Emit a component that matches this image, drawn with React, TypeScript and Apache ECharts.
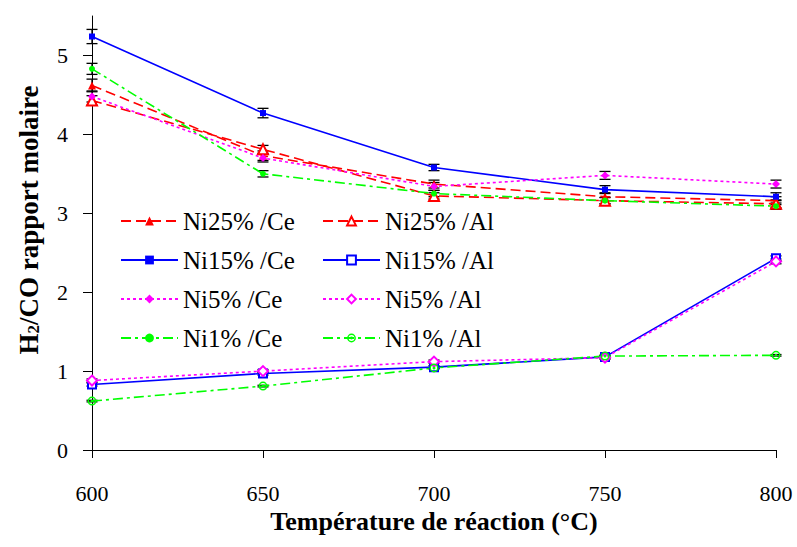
import React, { useEffect, useRef } from "react";
import * as echarts from "echarts";

const temperatures = [600, 650, 700, 750, 800];
const xTicks = [600, 650, 700, 750, 800];
const yTicks = [0, 1, 2, 3, 4, 5];

const namesCe = ["Ni25%/Ce", "Ni15%/Ce", "Ni5%/Ce", "Ni1%/Ce"];
const namesAl = ["Ni25%/Al", "Ni15%/Al", "Ni5%/Al", "Ni1%/Al"];

const ni25Ce = [4.62, 3.73, 3.37, 3.21, 3.16];
const ni25Al = [4.43, 3.81, 3.22, 3.16, 3.12];
const ni15Ce = [5.24, 4.27, 3.58, 3.3, 3.21];
const ni15Al = [0.83, 0.97, 1.05, 1.18, 2.43];
const ni5Ce = [4.48, 3.7, 3.34, 3.48, 3.37];
const ni5Al = [0.88, 1.0, 1.12, 1.17, 2.39];
const ni1Ce = [4.83, 3.5, 3.25, 3.16, 3.09];
const ni1Al = [0.62, 0.81, 1.04, 1.19, 1.2];

const err25Ce = [0.08, 0.06, 0.05, 0.05, 0.05];
const err25Al = [0.06, 0.05, 0.04, 0.04, 0.05];
const err15Ce = [0.09, 0.06, 0.04, 0.05, 0.05];
const err15Al = [0.02, 0.02, 0.02, 0.02, 0.03];
const err5Ce = [0.07, 0.05, 0.05, 0.05, 0.05];
const err5Al = [0.02, 0.02, 0.02, 0.02, 0.03];
const err1Ce = [0.07, 0.04, 0.04, 0.04, 0.04];
const err1Al = [0.01, 0.01, 0.01, 0.01, 0.01];

const FONT = "Liberation Serif";
const RED = "#FF0000";
const BLUE = "#0000FF";
const MAGENTA = "#FF00FF";
const GREEN = "#00FF00";
const RING_DOT =
  "path://M1,10A9,9 0 1,1 19,10A9,9 0 1,1 1,10Z M4,10A6,6 0 1,0 16,10A6,6 0 1,0 4,10Z M7,10A3,3 0 1,1 13,10A3,3 0 1,1 7,10Z";

export default function App() {
  const ref = useRef<HTMLDivElement>(null);
  useEffect(() => {
    document.body.style.margin = "0";
    if (!ref.current) return;
    const chart = echarts.init(ref.current, null, { renderer: "svg" });

    const defs = [
      { name: "Ni25%/Ce", v: ni25Ce, e: err25Ce, color: RED, dash: [10, 5], symbol: "triangle", size: 8 },
      { name: "Ni25%/Al", v: ni25Al, e: err25Al, color: RED, dash: [10, 5], symbol: "emptyTriangle", size: 10 },
      { name: "Ni15%/Ce", v: ni15Ce, e: err15Ce, color: BLUE, dash: "solid", symbol: "rect", size: 6 },
      { name: "Ni15%/Al", v: ni15Al, e: err15Al, color: BLUE, dash: "solid", symbol: "emptyRect", size: 8 },
      { name: "Ni5%/Ce", v: ni5Ce, e: err5Ce, color: MAGENTA, dash: [3, 3], symbol: "diamond", size: 8 },
      { name: "Ni5%/Al", v: ni5Al, e: err5Al, color: MAGENTA, dash: [3, 3], symbol: "emptyDiamond", size: 10 },
      { name: "Ni1%/Ce", v: ni1Ce, e: err1Ce, color: GREEN, dash: [10, 4, 3, 4], symbol: "circle", size: 6 },
      { name: "Ni1%/Al", v: ni1Al, e: err1Al, color: GREEN, dash: [10, 4, 3, 4], symbol: RING_DOT, size: 9 },
    ];

    const errorData: number[][] = [];
    defs.forEach((d) =>
      d.v.forEach((val, i) => errorData.push([temperatures[i], val - d.e[i], val + d.e[i]]))
    );

    const lineSeries = defs.map((d) => ({
      type: "line",
      name: d.name,
      data: d.v.map((val, i) => [temperatures[i], val]),
      symbol: d.symbol,
      symbolSize: d.size,
      lineStyle: { color: d.color, width: 1.6, type: d.dash },
      itemStyle: { color: d.color, borderWidth: 1.5 },
      z: 3,
    }));

    const errorSeries = {
      type: "custom",
      name: "err",
      silent: true,
      z: 2,
      data: errorData,
      encode: { x: 0, y: [1, 2] },
      renderItem: (params: any, api: any) => {
        const x = api.value(0);
        const lo = api.coord([x, api.value(1)]);
        const hi = api.coord([x, api.value(2)]);
        const w = 5.5;
        const st = { stroke: "#000", lineWidth: 1.3 };
        return {
          type: "group",
          children: [
            { type: "line", shape: { x1: lo[0], y1: lo[1], x2: hi[0], y2: hi[1] }, style: st },
            { type: "line", shape: { x1: lo[0] - w, y1: lo[1], x2: lo[0] + w, y2: lo[1] }, style: st },
            { type: "line", shape: { x1: hi[0] - w, y1: hi[1], x2: hi[0] + w, y2: hi[1] }, style: st },
          ],
        };
      },
    };

    const legendCommon = {
      orient: "vertical",
      itemWidth: 57,
      itemHeight: 11,
      itemGap: 13,
      selectedMode: false,
      formatter: (n: string) => n.replace("/", " /"),
      textStyle: { fontFamily: FONT, fontSize: 25, color: "#000", lineHeight: 26 },
    };

    chart.setOption({
      animation: false,
      backgroundColor: "#fff",
      textStyle: { fontFamily: FONT },
      grid: { left: 92, right: 21, top: 16, bottom: 97 },
      legend: [
        { ...legendCommon, data: namesCe, left: 115, top: 203 },
        { ...legendCommon, data: namesAl, left: 317, top: 203 },
      ],
      xAxis: {
        type: "value",
        min: 600,
        max: 800,
        interval: 50,
        name: "Température de réaction (°C)",
        nameLocation: "middle",
        nameGap: 58,
        nameTextStyle: { fontFamily: FONT, fontSize: 26, fontWeight: "bold", color: "#000" },
        axisLine: { show: true, lineStyle: { color: "#000", width: 1 } },
        axisTick: { show: true, length: 8, lineStyle: { color: "#000" }, customValues: xTicks },
        axisLabel: { fontFamily: FONT, fontSize: 22, color: "#000", margin: 32, customValues: xTicks },
        splitLine: { show: false },
      },
      yAxis: {
        type: "value",
        min: 0,
        max: 5.5,
        interval: 1,
        name: "{a|H}{b|2}{a|/CO rapport molaire}",
        nameLocation: "middle",
        nameGap: 50,
        nameTextStyle: {
          color: "#000",
          padding: [0, 0, 0, 26],
          rich: {
            a: { fontFamily: FONT, fontSize: 27, fontWeight: "bold", color: "#000" },
            b: { fontFamily: FONT, fontSize: 17, fontWeight: "bold", color: "#000", verticalAlign: "bottom" },
          },
        },
        axisLine: { show: true, lineStyle: { color: "#000", width: 1 } },
        axisTick: { show: true, length: 9, lineStyle: { color: "#000" }, customValues: yTicks },
        axisLabel: { fontFamily: FONT, fontSize: 22, color: "#000", margin: 24, customValues: yTicks },
        splitLine: { show: false },
      },
      series: [errorSeries, ...lineSeries],
    });
    return () => chart.dispose();
  }, []);
  return <div ref={ref} style={{ width: 797, height: 547 }} />;
}
